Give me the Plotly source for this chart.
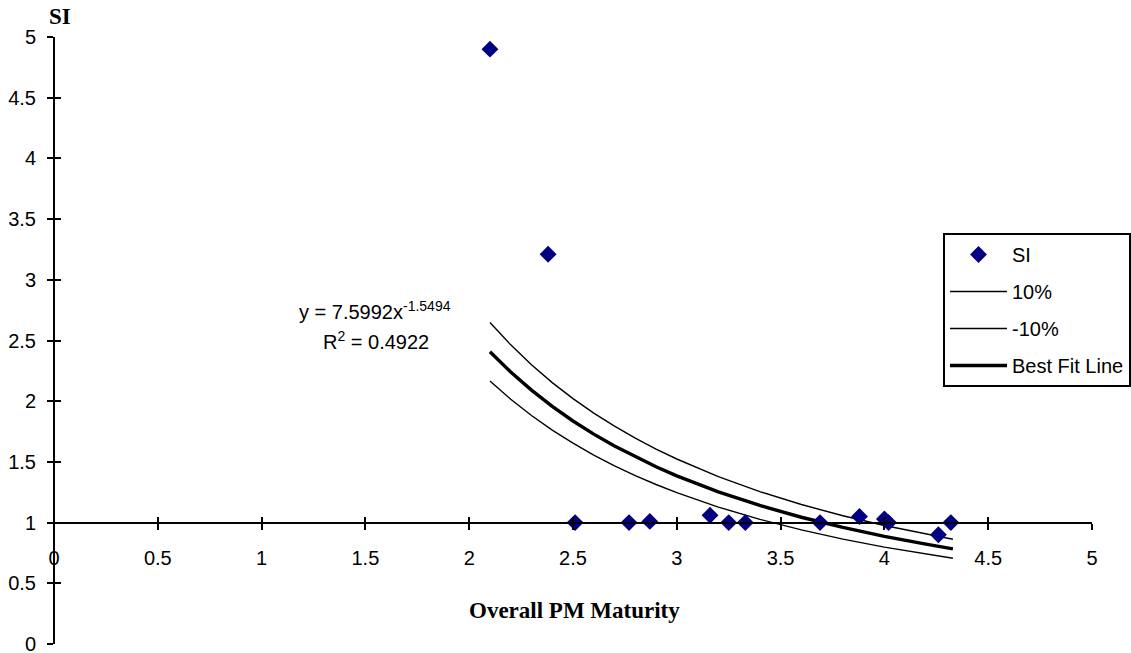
import plotly.graph_objects as go

# Observed data
maturity = [2.10, 2.38, 2.51, 2.77, 2.87, 3.16, 3.25, 3.33, 3.69, 3.88, 4.00, 4.02, 4.26, 4.32]
si_values = [4.90, 3.21, 1.00, 1.00, 1.01, 1.06, 1.00, 1.00, 1.00, 1.05, 1.03, 1.00, 0.90, 1.00]

# Trend line samples
fit_x = [2.1, 2.2, 2.3, 2.4, 2.5, 2.6, 2.7, 2.8, 2.9, 3.0, 3.2, 3.4, 3.6, 3.8, 4.0, 4.2, 4.33]
fit_best = [2.407, 2.240, 2.091, 1.957, 1.837, 1.729, 1.631, 1.542, 1.460, 1.385, 1.253, 1.141, 1.044, 0.960, 0.887, 0.823, 0.784]
fit_plus10 = [2.648, 2.464, 2.300, 2.153, 2.021, 1.902, 1.794, 1.696, 1.606, 1.524, 1.379, 1.255, 1.149, 1.056, 0.976, 0.905, 0.863]
fit_minus10 = [2.167, 2.016, 1.882, 1.762, 1.654, 1.556, 1.468, 1.387, 1.314, 1.247, 1.128, 1.027, 0.940, 0.864, 0.798, 0.740, 0.706]

tick_font = dict(family="Liberation Sans, Arial, sans-serif", size=20, color="black")
title_font = dict(family="Liberation Serif, Times New Roman, serif", size=23, color="black")

PW, PH = 1038, 607  # plot area size in px
L, T = 54, 37


def px(xp):
    return (xp - L) / PW


def py(yp):
    return (T + PH - yp) / PH


fig = go.Figure()

fig.add_trace(go.Scatter(x=fit_x, y=fit_plus10, mode="lines", name="10%",
                         line=dict(color="black", width=1.4), legendgroup="b", legendrank=2))
fig.add_trace(go.Scatter(x=fit_x, y=fit_minus10, mode="lines", name="-10%",
                         line=dict(color="black", width=1.4), legendgroup="c", legendrank=3))
fig.add_trace(go.Scatter(x=fit_x, y=fit_best, mode="lines", name="Best Fit Line",
                         line=dict(color="black", width=3.4), legendgroup="d", legendrank=4))
fig.add_trace(go.Scatter(x=maturity, y=si_values, mode="markers", name="SI",
                         marker=dict(symbol="diamond", size=13, color="#000080"),
                         legendgroup="a", legendrank=1))

fig.update_layout(
    width=1131, height=653,
    margin=dict(l=L, r=1131 - L - PW, t=T, b=653 - T - PH, autoexpand=False),
    plot_bgcolor="white", paper_bgcolor="white",
    showlegend=True,
    legend=dict(x=px(943), y=py(233), xanchor="left", yanchor="top",
                bgcolor="white", bordercolor="black", borderwidth=2,
                font=tick_font, tracegroupgap=8, itemwidth=57),
    xaxis=dict(range=[0, 5], domain=[0, 1], anchor="free", position=0.2,
               dtick=0.5, tick0=0, showgrid=False, zeroline=False,
               showline=True, linecolor="black", linewidth=2,
               ticks="outside", ticklen=6, tickwidth=2, tickcolor="black",
               tickfont=tick_font, ticklabelstandoff=11, ticklabeloverflow="allow"),
    xaxis2=dict(range=[0, 5], overlaying="x", anchor="free", position=0.2,
                dtick=0.5, tick0=0, showgrid=False, zeroline=False, showline=False,
                ticks="inside", ticklen=6, tickwidth=2, tickcolor="black",
                showticklabels=False),
    yaxis=dict(range=[0, 5], domain=[0, 1], anchor="free", position=0,
               dtick=0.5, tick0=0, showgrid=False, zeroline=False,
               showline=True, linecolor="black", linewidth=2,
               ticks="outside", ticklen=6, tickwidth=2, tickcolor="black",
               tickfont=tick_font, ticklabelstandoff=7, ticklabeloverflow="allow"),
    yaxis2=dict(range=[0, 5], overlaying="y", anchor="free", position=0,
                dtick=0.5, tick0=0, showgrid=False, zeroline=False, showline=False,
                ticks="inside", ticklen=6, tickwidth=2, tickcolor="black",
                showticklabels=False),
)

# empty trace so the overlay axes (inside tick marks) are drawn
fig.add_trace(go.Scatter(x=[None], y=[None], xaxis="x2", yaxis="y2", showlegend=False,
                         hoverinfo="skip"))

fig.add_annotation(text="<b>SI</b>", xref="paper", yref="paper", x=px(60), y=py(17),
                   xanchor="center", yanchor="middle", showarrow=False, font=title_font)
fig.add_annotation(text="<b>Overall PM Maturity</b>", xref="paper", yref="paper",
                   x=px(574), y=py(610), xanchor="center", yanchor="middle",
                   showarrow=False, font=title_font)
fig.add_annotation(text="y = 7.5992x<sup>-1.5494</sup>", xref="paper", yref="paper",
                   x=px(375), y=py(310), xanchor="center", yanchor="middle",
                   showarrow=False, font=tick_font)
fig.add_annotation(text="R<sup>2</sup> = 0.4922", xref="paper", yref="paper",
                   x=px(376), y=py(340), xanchor="center", yanchor="middle",
                   showarrow=False, font=tick_font)

fig.write_html("out.html", post_script="document.body.style.margin='0';",
               config={"displayModeBar": False})
